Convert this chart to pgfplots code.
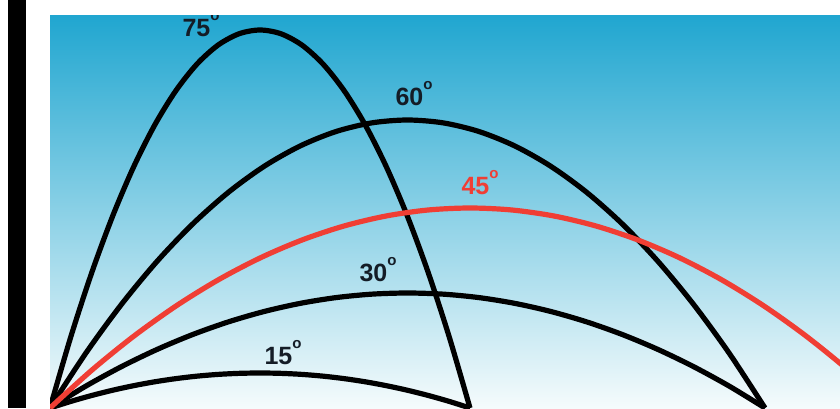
\documentclass[border=0pt]{standalone}
\usepackage{pgfplots}
\pgfplotsset{compat=1.18}
\usepackage{fontspec}
\setmainfont{Liberation Sans}
\definecolor{bgtop}{RGB}{32,166,208}
\definecolor{bgmid}{RGB}{118,205,230}
\definecolor{bgbot}{RGB}{245,251,252}
\definecolor{redline}{RGB}{240,62,52}
\definecolor{lbl}{RGB}{20,28,38}
\newcommand{\degsym}{\raisebox{8pt}{\fontsize{7.5}{7.5}\selectfont o}}
\begin{document}
\begin{tikzpicture}
\fill[white] (-25pt,0) rectangle (395pt,204pt);
\begin{axis}[
  at={(0,0)}, anchor=south west,
  scale only axis, width=395pt, height=196.5pt,
  xmin=0, xmax=790, ymin=0, ymax=393,
  axis line style={draw=none}, ticks=none,
  axis background/.style={shade, top color=bgtop, middle color=bgmid, bottom color=bgbot},
  every axis plot/.append style={line width=2.6pt, smooth, no markers},
  clip=true,
]
% 75 deg
\addplot[black] coordinates {(0,0) (21,71.82) (42,136.08) (63,192.78) (84,241.92) (105,283.5) (126,317.52) (147,343.98) (168,362.88) (189,374.22) (210,378) (231,374.22) (252,362.88) (273,343.98) (294,317.52) (315,283.5) (336,241.92) (357,192.78) (378,136.08) (399,71.82) (420,0)};
% 60 deg
\addplot[black] coordinates {(0,0) (35.75,54.72) (71.5,103.68) (107.25,146.88) (143,184.32) (178.75,216) (214.5,241.92) (250.25,262.08) (286,276.48) (321.75,285.12) (357.5,288) (393.25,285.12) (429,276.48) (464.75,262.08) (500.5,241.92) (536.25,216) (572,184.32) (607.75,146.88) (643.5,103.68) (679.25,54.72) (715,0)};
% 30 deg
\addplot[black] coordinates {(0,0) (35.75,21.85) (71.5,41.4) (107.25,58.65) (143,73.6) (178.75,86.25) (214.5,96.6) (250.25,104.65) (286,110.4) (321.75,113.85) (357.5,115) (393.25,113.85) (429,110.4) (464.75,104.65) (500.5,96.6) (536.25,86.25) (572,73.6) (607.75,58.65) (643.5,41.4) (679.25,21.85) (715,0)};
% 15 deg
\addplot[black] coordinates {(0,0) (21,6.65) (42,12.6) (63,17.85) (84,22.4) (105,26.25) (126,29.4) (147,31.85) (168,33.6) (189,34.65) (210,35) (231,34.65) (252,33.6) (273,31.85) (294,29.4) (315,26.25) (336,22.4) (357,17.85) (378,12.6) (399,6.65) (420,0)};
% 45 deg
\addplot[redline] coordinates {(0,0) (42,38) (84,72) (126,102) (168,128) (210,150) (252,168) (294,182) (336,192) (378,198) (420,200) (462,198) (504,192) (546,182) (588,168) (630,150) (672,128) (714,102) (756,72) (798,38) (840,0)};
\node[lbl, font=\fontsize{12.5}{14}\selectfont\bfseries] at (axis cs:151,383) {75\degsym};
\node[lbl, font=\fontsize{12.5}{14}\selectfont\bfseries] at (axis cs:364,314) {60\degsym};
\node[redline, font=\fontsize{12.5}{14}\selectfont\bfseries] at (axis cs:430,225) {45\degsym};
\node[lbl, font=\fontsize{12.5}{14}\selectfont\bfseries] at (axis cs:328,138) {30\degsym};
\node[lbl, font=\fontsize{12.5}{14}\selectfont\bfseries] at (axis cs:233,55) {15\degsym};
\end{axis}
\fill[white] (-12pt,196.5pt) rectangle (395pt,204pt);
\fill[white] (-12pt,0) rectangle (0pt,204pt);
\fill[black] (-21pt,0) rectangle (-12pt,204pt);
\end{tikzpicture}
\end{document}
